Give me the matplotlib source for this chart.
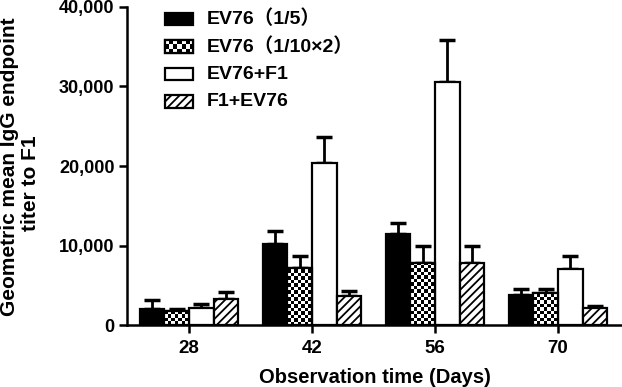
import numpy as np
import matplotlib
matplotlib.use("Agg")
import matplotlib.pyplot as plt
from matplotlib.patches import Rectangle
from matplotlib.ticker import FuncFormatter

plt.rcParams['font.family'] = ['Liberation Sans', 'Noto Sans CJK SC', 'DejaVu Sans']
plt.rcParams['font.weight'] = 'bold'
plt.rcParams['hatch.linewidth'] = 1.3

days = ["28", "42", "56", "70"]
groups = ["EV76\uff081/5\uff09", "EV76\uff081/10\u00d72\uff09", "EV76+F1", "F1+EV76"]
ev76_1_5 = [2000, 10200, 11400, 3800]
ev76_1_5_err = [1100, 1600, 1400, 700]
ev76_1_10x2 = [1750, 7200, 7800, 4000]
ev76_1_10x2_err = [300, 1500, 2100, 500]
ev76_f1 = [2100, 20400, 30600, 7100]
ev76_f1_err = [500, 3300, 5300, 1600]
f1_ev76 = [3300, 3600, 7800, 2100]
f1_ev76_err = [800, 700, 2100, 300]

series = [(ev76_1_5, ev76_1_5_err), (ev76_1_10x2, ev76_1_10x2_err),
          (ev76_f1, ev76_f1_err), (f1_ev76, f1_ev76_err)]
STYLE = ["solid", "checker", "white", "hatch"]

W = 0.2
LW = 1.6
HATCH = "////"


def checker(n=120):
    i, j = np.indices((n, n))
    return ((i + j) % 2).astype(float)


fig = plt.figure(figsize=(6.22, 3.87), dpi=100)
ax = fig.add_axes([0.204, 0.160, 0.796, 0.822])
x = np.arange(len(days))

for k, ((vals, errs), st) in enumerate(zip(series, STYLE)):
    pos = x + (k - 1.5) * W
    fc = "black" if st == "solid" else "white"
    hatch = HATCH if st == "hatch" else None
    bars = ax.bar(pos, vals, W, color=fc, edgecolor="black", linewidth=LW,
                  hatch=hatch, zorder=3)
    if st == "checker":
        for b in bars:
            bx, by = b.get_x(), b.get_y()
            bw, bh = b.get_width(), b.get_height()
            ny = max(int(round(bh / 440)), 1)
            img = ax.imshow(checker(200)[:ny, :7], cmap="gray_r", vmin=0, vmax=1,
                            extent=(bx, bx + bw, by, by + ny * 440), origin="lower",
                            aspect="auto", interpolation="nearest", zorder=3.5)
            img.set_clip_path(b)
            ax.add_patch(Rectangle((bx, by), bw, bh, fill=False, edgecolor="black",
                                   linewidth=LW, zorder=4))
    ax.errorbar(pos, vals, yerr=[np.zeros(len(vals)), errs], fmt="none",
                ecolor="black", elinewidth=2, capsize=5.5, capthick=2.5, zorder=2)

ax.set_xlim(-0.504, 3.52)
ax.set_ylim(0, 40000)
ax.set_xticks(x)
ax.set_xticklabels(days, fontsize=13.5, fontweight="bold")
ax.set_yticks([0, 10000, 20000, 30000, 40000])
ax.yaxis.set_major_formatter(FuncFormatter(lambda v, p: f"{int(v):,}"))
for lab in ax.get_yticklabels():
    lab.set_fontsize(13)
    lab.set_fontweight("bold")
ax.tick_params(direction="out", length=6, width=1.8, pad=3)
ax.tick_params(axis="x", pad=5)
for s in ("top", "right"):
    ax.spines[s].set_visible(False)
for s in ("left", "bottom"):
    ax.spines[s].set_linewidth(1.8)
ax.set_xlabel("Observation time (Days)", fontsize=14.5, fontweight="bold", labelpad=8)

# two-line y label, placed in figure pixels like the reference
fig.text(10 / 622, 1 - 167 / 387, "Geometric mean IgG endpoint", rotation=90,
         fontsize=15, fontweight="bold", ha="center", va="center")
fig.text(31 / 622, 1 - 183 / 387, "titer to F1", rotation=90,
         fontsize=15, fontweight="bold", ha="center", va="center")

# legend drawn by hand so the checker swatch matches the bars
lx, lw_, lh = 0.077, 0.057, 0.04
for k, (name, st) in enumerate(zip(groups, STYLE)):
    ly = 0.962 - k * 0.0865
    fc = "black" if st == "solid" else "white"
    hatch = HATCH if st == "hatch" else None
    r = Rectangle((lx, ly - lh / 2), lw_, lh, transform=ax.transAxes, facecolor=fc,
                  edgecolor="black", linewidth=LW, hatch=hatch, zorder=5)
    ax.add_patch(r)
    if st == "checker":
        im = ax.imshow(checker(20)[:3, :7], cmap="gray_r", vmin=0, vmax=1,
                       extent=(lx, lx + lw_, ly - lh / 2, ly + lh / 2),
                       transform=ax.transAxes, origin="lower", aspect="auto",
                       interpolation="nearest", zorder=5.5)
        im.set_clip_path(r)
        ax.add_patch(Rectangle((lx, ly - lh / 2), lw_, lh, transform=ax.transAxes,
                               fill=False, edgecolor="black", linewidth=LW, zorder=6))
    ax.text(0.162, ly, name, transform=ax.transAxes, fontsize=14,
            fontweight="bold", va="center", ha="left")

ax.set_xlim(-0.504, 3.52)
ax.set_ylim(0, 40000)
fig.savefig("out.png", dpi=100)
